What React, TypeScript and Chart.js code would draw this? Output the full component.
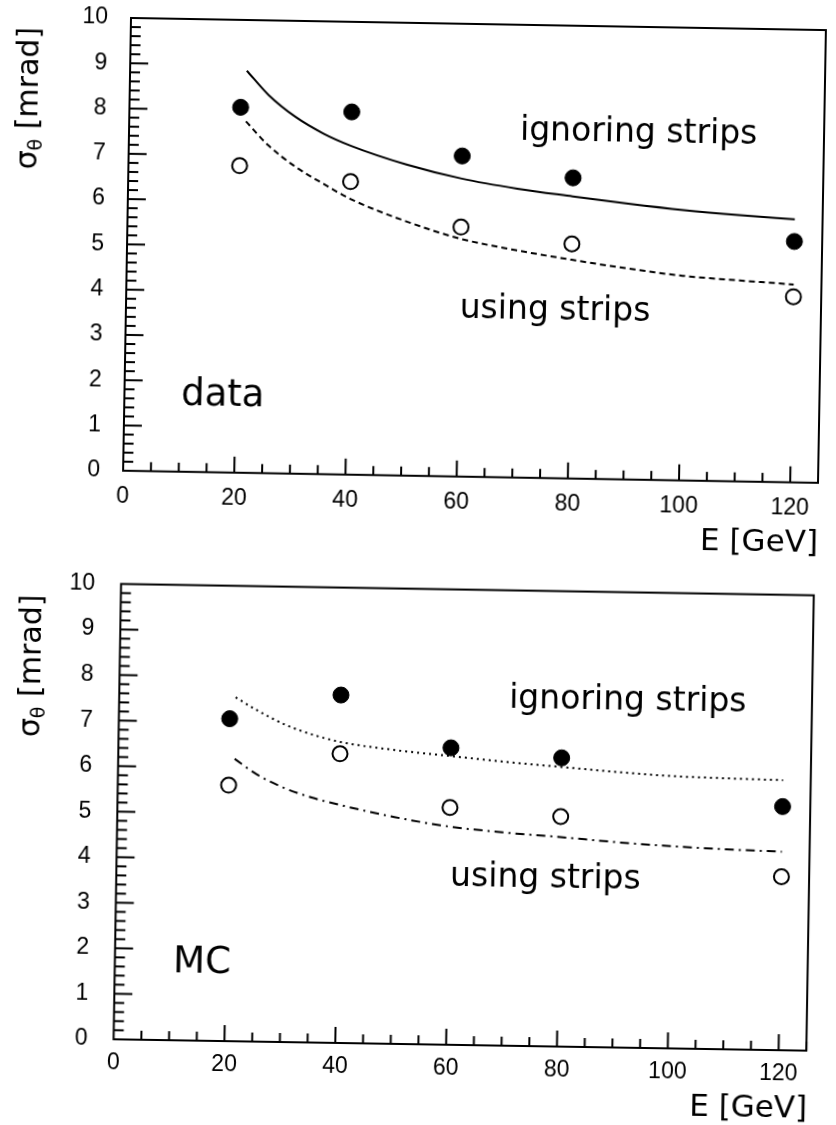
import React, { useEffect, useRef } from "react";
import { Chart, registerables } from "chart.js";

Chart.register(...registerables);

// ---------- data ----------
const energies = [20, 40, 60, 80, 120];

// top panel ("data")
const dataIgnoring = [8.07, 8.01, 7.08, 6.64, 5.32];
const dataUsing = [6.78, 6.47, 5.51, 5.18, 4.1];

// bottom panel ("MC")
const mcIgnoring = [7.08, 7.64, 6.52, 6.34, 5.35];
const mcUsing = [5.62, 6.35, 5.21, 5.05, 3.81];

// fitted curves
const fitEnergies = [21, 25, 30, 35, 40, 50, 60, 70, 80, 90, 100, 110, 120];
const dataFitIgnoring = [8.88, 8.35, 7.87, 7.52, 7.26, 6.87, 6.58, 6.38, 6.23, 6.09, 5.97, 5.88, 5.81];
const dataFitUsing = [7.76, 7.25, 6.78, 6.42, 6.09, 5.62, 5.25, 5.02, 4.83, 4.66, 4.52, 4.44, 4.37];
const mcFitIgnoring = [7.55, 7.27, 6.97, 6.76, 6.61, 6.45, 6.34, 6.23, 6.14, 6.05, 5.98, 5.95, 5.93];
const mcFitUsing = [6.2, 5.87, 5.58, 5.38, 5.23, 4.98, 4.79, 4.68, 4.6, 4.51, 4.44, 4.39, 4.36];

// axes
const xTickValues = [0, 20, 40, 60, 80, 100, 120];
const yTickValues = [0, 1, 2, 3, 4, 5, 6, 7, 8, 9, 10];
const xMin = 0;
const xMax = 125;
const yMin = 0;
const yMax = 10;

const labelIgnoring = "ignoring strips";
const labelUsing = "using strips";
const xTitle = "E [GeV]";

const TXT = '"DejaVu Sans", sans-serif';
const TICKFONT = '"Liberation Sans", Arial, sans-serif';

type Pos = { x: number; y: number };
type Panel = {
  top: number;
  height: number;
  rotate: number;
  origin: Pos;
  area: { left: number; top: number; right: number; bottom: number };
  yPad: number;
  xPad: number;
  ignoring: number[];
  using: number[];
  fitIgnoring: number[];
  fitUsing: number[];
  dashIgnoring: number[];
  dashUsing: number[];
  tag: string;
  tagPos: Pos;
  ignPos: Pos;
  usePos: Pos;
  xTitlePos: Pos;
  yTitlePos: Pos;
};

const panels: Panel[] = [
  {
    top: 0,
    height: 560,
    rotate: 1.0,
    origin: { x: 474.5, y: 250.4 },
    area: { left: 127, top: 24, right: 822, bottom: 476.8 },
    yPad: 23,
    xPad: 12,
    ignoring: dataIgnoring,
    using: dataUsing,
    fitIgnoring: dataFitIgnoring,
    fitUsing: dataFitUsing,
    dashIgnoring: [],
    dashUsing: [6, 4],
    tag: "data",
    tagPos: { x: 183.7, y: 410 },
    ignPos: { x: 518, y: 138.7 },
    usePos: { x: 460.7, y: 318.3 },
    xTitlePos: { x: 823, y: 546 },
    yTitlePos: { x: 35.3, y: 106 },
  },
  {
    top: 560,
    height: 565,
    rotate: 0.94,
    origin: { x: 463.7, y: 257.3 },
    area: { left: 117.3, top: 29.6, right: 810.1, bottom: 485 },
    yPad: 26,
    xPad: 10,
    ignoring: mcIgnoring,
    using: mcUsing,
    fitIgnoring: mcFitIgnoring,
    fitUsing: mcFitUsing,
    dashIgnoring: [2, 4],
    dashUsing: [9, 5, 2, 5],
    tag: "MC",
    tagPos: { x: 175.5, y: 417.4 },
    ignPos: { x: 507.2, y: 147.3 },
    usePos: { x: 451.1, y: 326.2 },
    xTitlePos: { x: 811.9, y: 552.4 },
    yTitlePos: { x: 37.5, y: 112.9 },
  },
];

function pairs(xs: number[], ys: number[]) {
  return xs.map((x, i) => ({ x, y: ys[i] }));
}

function makeChart(canvas: HTMLCanvasElement, p: Panel) {
  const W = 836;
  const framePlugin = {
    id: "frameTicks",
    afterDraw(chart: any) {
      const ctx = chart.ctx as CanvasRenderingContext2D;
      const a = chart.chartArea;
      const xs = chart.scales.x;
      const ys = chart.scales.y;
      ctx.save();
      ctx.strokeStyle = "#000";
      ctx.lineWidth = 2;
      ctx.strokeRect(a.left, a.top, a.right - a.left, a.bottom - a.top);
      // x ticks (inward)
      for (let i = 1; i * 5 <= xMax; i++) {
        const v = i * 5;
        const px = xs.getPixelForValue(v);
        const len = v % 20 === 0 ? 16 : 9;
        ctx.beginPath();
        ctx.moveTo(px, a.bottom);
        ctx.lineTo(px, a.bottom - len);
        ctx.stroke();
      }
      // y ticks (inward)
      for (let i = 1; i < 50; i++) {
        const v = i * 0.2;
        const py = ys.getPixelForValue(v);
        const len = i % 5 === 0 ? 18 : 10;
        ctx.beginPath();
        ctx.moveTo(a.left, py);
        ctx.lineTo(a.left + len, py);
        ctx.stroke();
      }
      // annotations
      ctx.fillStyle = "#000";
      ctx.textBaseline = "alphabetic";
      ctx.textAlign = "left";
      ctx.font = `33px ${TXT}`;
      ctx.fillText(labelIgnoring, p.ignPos.x, p.ignPos.y);
      ctx.fillText(labelUsing, p.usePos.x, p.usePos.y);
      ctx.font = `37px ${TXT}`;
      ctx.fillText(p.tag, p.tagPos.x, p.tagPos.y);
      ctx.font = `31px ${TXT}`;
      ctx.textAlign = "right";
      ctx.fillText(xTitle, p.xTitlePos.x, p.xTitlePos.y);
      // y title: sigma_theta [mrad]
      ctx.translate(p.yTitlePos.x, p.yTitlePos.y);
      ctx.rotate(-Math.PI / 2);
      ctx.textAlign = "left";
      ctx.font = `30px ${TXT}`;
      const w1 = ctx.measureText("σ").width;
      const w3 = ctx.measureText(" [mrad]").width;
      ctx.font = `19px ${TXT}`;
      const w2 = ctx.measureText("θ").width;
      const start = -(w1 + w2 + w3) / 2;
      ctx.font = `30px ${TXT}`;
      ctx.fillText("σ", start, 0);
      ctx.fillText(" [mrad]", start + w1 + w2, 0);
      ctx.font = `19px ${TXT}`;
      ctx.fillText("θ", start + w1, 5);
      ctx.restore();
    },
  };

  return new Chart(canvas, {
    type: "scatter",
    data: {
      datasets: [
        {
          data: pairs(fitEnergies, p.fitIgnoring),
          showLine: true,
          borderColor: "#000",
          borderWidth: 2,
          borderDash: p.dashIgnoring,
          pointRadius: 0,
          cubicInterpolationMode: "monotone",
          fill: false,
        },
        {
          data: pairs(fitEnergies, p.fitUsing),
          showLine: true,
          borderColor: "#000",
          borderWidth: 2,
          borderDash: p.dashUsing,
          pointRadius: 0,
          cubicInterpolationMode: "monotone",
          fill: false,
        },
        {
          data: pairs(energies, p.ignoring),
          showLine: false,
          pointRadius: 8,
          pointBackgroundColor: "#000",
          pointBorderColor: "#000",
          pointBorderWidth: 1,
        },
        {
          data: pairs(energies, p.using),
          showLine: false,
          pointRadius: 7.5,
          pointBackgroundColor: "#fff",
          pointBorderColor: "#000",
          pointBorderWidth: 2,
        },
      ],
    } as any,
    options: {
      responsive: false,
      animation: false,
      devicePixelRatio: 1,
      layout: {
        padding: {
          top: p.area.top,
          right: W - p.area.right,
          left: 0,
          bottom: 0,
        },
      },
      plugins: {
        legend: { display: false },
        tooltip: { enabled: false },
        title: { display: false },
      },
      scales: {
        x: {
          type: "linear",
          min: xMin,
          max: xMax,
          grid: { display: false, drawTicks: false },
          border: { display: false },
          ticks: {
            color: "#000",
            font: { family: TICKFONT, size: 23 },
            padding: p.xPad,
            maxRotation: 0,
            autoSkip: false,
          },
          afterBuildTicks: (s: any) => {
            s.ticks = xTickValues.map((v) => ({ value: v }));
          },
          afterFit: (s: any) => {
            s.height = p.height - p.area.bottom;
            s.paddingLeft = 0;
            s.paddingRight = 0;
            s.paddingTop = 0;
            s.paddingBottom = 0;
          },
        },
        y: {
          type: "linear",
          min: yMin,
          max: yMax,
          grid: { display: false, drawTicks: false },
          border: { display: false },
          ticks: {
            color: "#000",
            font: { family: TICKFONT, size: 23 },
            padding: p.yPad,
            autoSkip: false,
          },
          afterBuildTicks: (s: any) => {
            s.ticks = yTickValues.map((v) => ({ value: v }));
          },
          afterFit: (s: any) => {
            s.width = p.area.left;
            s.paddingLeft = 0;
            s.paddingRight = 0;
            s.paddingTop = 0;
            s.paddingBottom = 0;
          },
        },
      },
    } as any,
    plugins: [framePlugin],
  });
}

function PanelChart({ p }: { p: Panel }) {
  const ref = useRef<HTMLCanvasElement | null>(null);
  useEffect(() => {
    if (!ref.current) return;
    const c = makeChart(ref.current, p);
    return () => c.destroy();
  }, [p]);
  return (
    <canvas
      ref={ref}
      width={836}
      height={p.height}
      style={{
        position: "absolute",
        left: 0,
        top: p.top,
        width: 836,
        height: p.height,
        display: "block",
        transformOrigin: `${p.origin.x}px ${p.origin.y}px`,
        transform: `rotate(${p.rotate}deg)`,
      }}
    />
  );
}

export default function App() {
  return (
    <div
      style={{
        position: "absolute",
        left: 0,
        top: 0,
        width: 836,
        height: 1125,
        overflow: "hidden",
        background: "#fff",
      }}
    >
      {panels.map((p, i) => (
        <PanelChart key={i} p={p} />
      ))}
    </div>
  );
}
